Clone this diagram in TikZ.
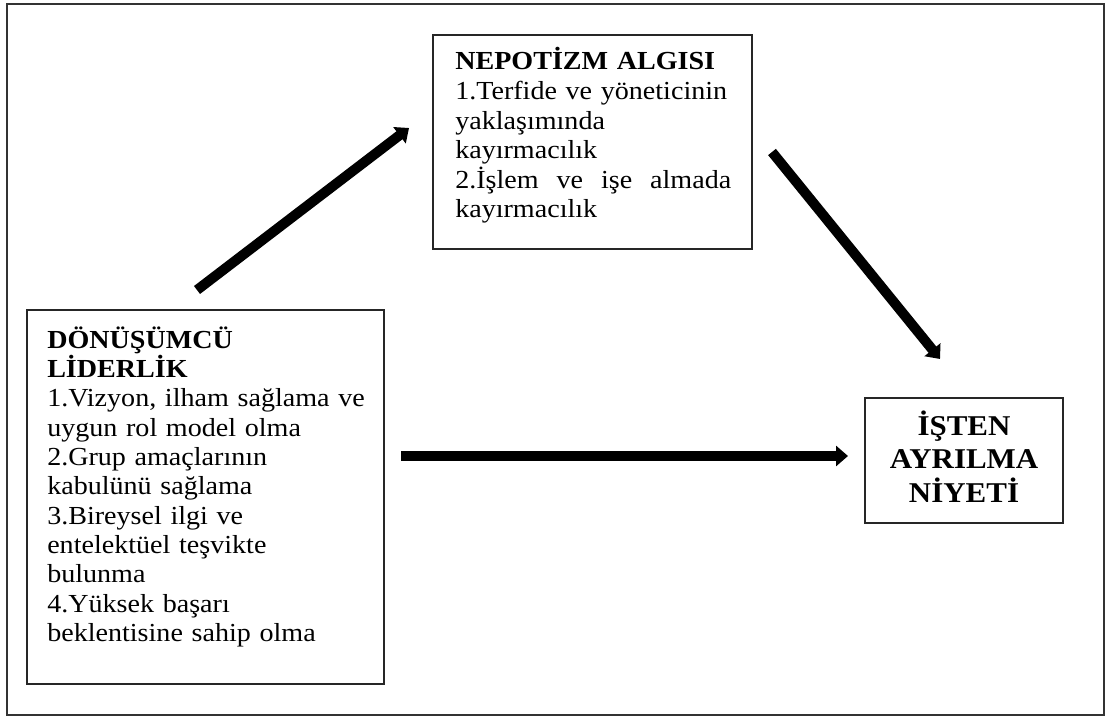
\documentclass[tikz,border=0pt]{standalone}
\usepackage{fontspec}
\setmainfont{Liberation Serif}[FakeStretch=1.08]
\usetikzlibrary{arrows.meta,fit}
\begin{document}
\begin{tikzpicture}[x=0.75pt,y=-0.75pt,
  frame/.style={draw=black!80,line width=1.1pt},
  box/.style={draw=black!85,line width=1.4pt,inner sep=0pt},
  txt/.style={inner sep=0pt,anchor=base west,align=left,font=\fontsize{19.5pt}{22.2pt}\selectfont},
  headtxt/.style={inner sep=0pt,anchor=base,align=center,font=\bfseries\fontsize{21.5pt}{25.2pt}\selectfont},
  bigarrow/.style={line width=7.5pt,-{Triangle[width=15pt,length=9pt]}}]
\useasboundingbox (0,0) rectangle (1105,716);
\draw[frame] (7,4) rectangle (1104,715);
% boxes
\node[box,fit={(433,35) (752,249)}] (nep) {};
\node[box,fit={(27,310) (384,684)}] (don) {};
\node[box,fit={(865,398) (1063,523)}] (isten) {};
% texts
\node[txt,text width=207pt] (neptxt) at (455,70)
  {\textbf{NEPOTİZM ALGISI}\\
   1.Terfide ve yöneticinin\\
   yaklaşımında\\
   kayırmacılık\\
   \makebox[207pt][s]{2.İşlem\hfill ve\hfill işe\hfill almada}\\
   kayırmacılık};
\node[txt,text width=250pt,font=\fontsize{19.5pt}{22pt}\selectfont] (dontxt) at (47,348)
  {\textbf{DÖNÜŞÜMCÜ}\\
   \textbf{LİDERLİK}\\
   1.Vizyon, ilham sağlama ve\\
   uygun rol model olma\\
   2.Grup amaçlarının\\
   kabulünü sağlama\\
   3.Bireysel ilgi ve\\
   entelektüel teşvikte\\
   bulunma\\
   4.Yüksek başarı\\
   beklentisine sahip olma};
\node[headtxt,text width=140pt] (istentxt) at (964,435)
  {İŞTEN\\AYRILMA\\NİYETİ};
% arrows
\coordinate (a1s) at (197,290);
\coordinate (a1e) at (409,128);
\coordinate (a2s) at (772,152);
\coordinate (a2e) at (940,359);
\coordinate (a3s) at (401,456);
\coordinate (a3e) at (848,456);
\draw[bigarrow] (a1s) -- (a1e);
\draw[bigarrow] (a2s) -- (a2e);
\draw[bigarrow] (a3s) -- (a3e);
\end{tikzpicture}
\end{document}
